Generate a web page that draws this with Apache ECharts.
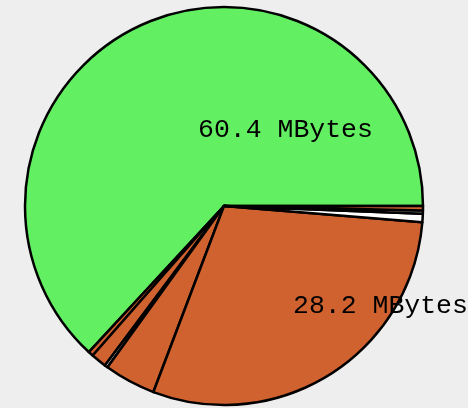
<!DOCTYPE html>
<html>
<head>
<meta charset="utf-8">
<script src="https://cdn.jsdelivr.net/npm/echarts@6/dist/echarts.min.js"></script>
<style>
  html, body { margin: 0; padding: 0; background: #eeeeee; }
  #chart { width: 468px; height: 408px; }
</style>
</head>
<body>
<div id="chart"></div>
<script>
// Slices in drawing order (counter-clockwise from 3 o'clock)
const sliceNames  = ['Slice A', 'Slice B', 'Slice C', 'Slice D', 'Slice E', 'Slice F', 'Slice G', 'Slice H', 'Slice I'];
const sliceValues = [60.4, 0.4, 1.2, 0.25, 4.0, 28.2, 0.65, 0.25, 0.35];
const sliceLabels = ['60.4 MBytes', '', '', '', '', '28.2 MBytes', '', '', ''];
const sliceColors = ['#62f062', '#d0622f', '#d0622f', '#ffffff', '#d0622f', '#d0622f', '#ffffff', '#b8b8b8', '#d0622f'];

const labelPos = { 0: [198, 130], 5: [293, 306] };

const chart = echarts.init(document.getElementById('chart'), null, { renderer: 'canvas' });
chart.setOption({
  backgroundColor: '#eeeeee',
  animation: false,
  series: [{
    type: 'pie',
    center: [224, 206],
    radius: 199,
    startAngle: 0,
    clockwise: false,
    avoidLabelOverlap: false,
    silent: true,
    itemStyle: { borderColor: '#000000', borderWidth: 2.5 },
    label: {
      show: true,
      position: 'inside',
      color: '#000000',
      fontFamily: 'Liberation Mono',
      fontSize: 26.5,
      formatter: p => sliceLabels[p.dataIndex]
    },
    labelLine: { show: false },
    labelLayout: function (params) {
      const pos = labelPos[params.dataIndex];
      if (!pos) return {};
      return { x: pos[0], y: pos[1], align: 'left', verticalAlign: 'middle' };
    },
    data: sliceValues.map((v, i) => ({
      name: sliceNames[i],
      value: v,
      itemStyle: { color: sliceColors[i] }
    }))
  }]
});
</script>
</body>
</html>
